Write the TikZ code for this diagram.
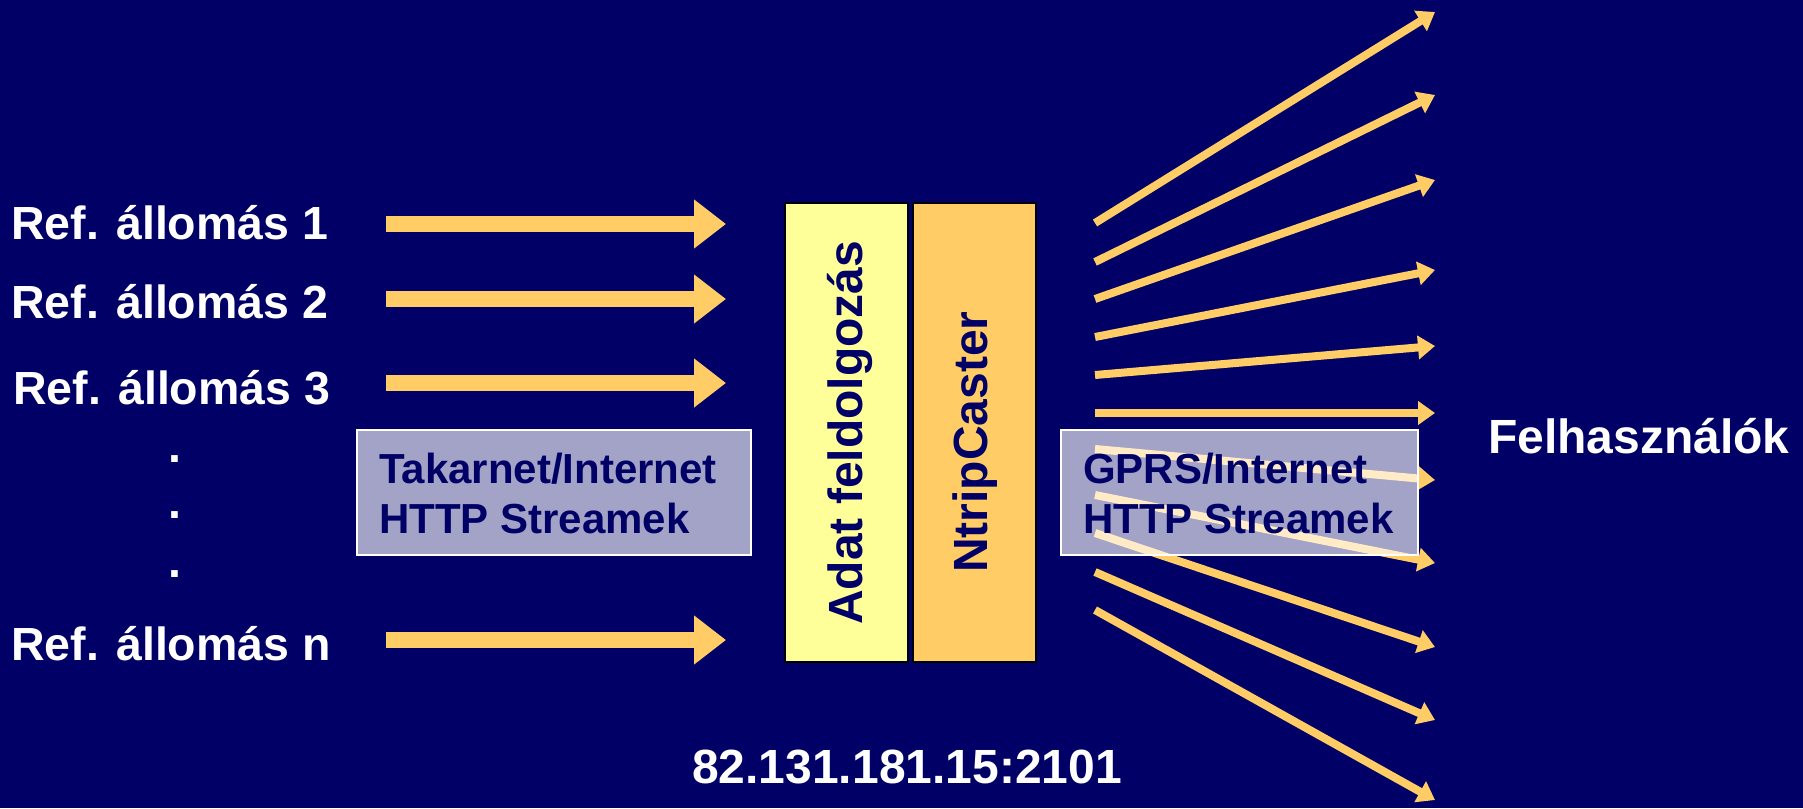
\documentclass[tikz,border=0pt]{standalone}
\usepackage{fontspec}
\setmainfont{Liberation Sans}
\usetikzlibrary{arrows.meta}
\definecolor{bg}{HTML}{000066}
\definecolor{arr}{HTML}{FFCC66}
\definecolor{ylw}{HTML}{FFFF99}
\definecolor{org}{HTML}{FFCC66}
\begin{document}
\begin{tikzpicture}[x=1pt,y=-1pt,
  lbl/.style={text=white, font=\fontsize{46.5}{54}\selectfont\bfseries, inner sep=0pt, anchor=base west},
  biglbl/.style={text=white, font=\fontsize{48}{56}\selectfont\bfseries, inner sep=0pt, anchor=base west},
  fatarrow/.style={draw=arr, line width=16pt, -{Triangle[length=32pt,width=47pt]}},
  thinarrow/.style={draw=arr, line width=8pt, -{Triangle[length=17pt,width=23pt]}},
  netbox/.style={fill=white, fill opacity=0.64, draw=white, line width=1.5pt, inner sep=0pt},
  boxtext/.style={text=bg, font=\fontsize{42}{50}\selectfont\bfseries, align=left, anchor=base west, inner sep=0pt},
  procbox/.style={draw=black, line width=2pt, inner sep=0pt},
  vtext/.style={text=bg, font=\fontsize{48}{56}\selectfont\bfseries, rotate=90, anchor=base west, inner sep=0pt}]
\fill[bg] (0,0) rectangle (1803,808);
\path[use as bounding box] (0,0) rectangle (1803,808);

% reference stations
\node[lbl] (r1) at (11,239) {Ref. állomás 1};
\node[lbl] (r2) at (11,318) {Ref. állomás 2};
\node[lbl] (r3) at (13,404) {Ref. állomás 3};
\node[lbl] (rn) at (11,660) {Ref. állomás n};
\node[lbl, anchor=base] (d1) at (175,462) {.};
\node[lbl, anchor=base] (d2) at (175,518) {.};
\node[lbl, anchor=base] (d3) at (175,577) {.};

% input arrows
\coordinate (a1s) at (386,224); \coordinate (a1e) at (726,224);
\coordinate (a2s) at (386,299); \coordinate (a2e) at (726,299);
\coordinate (a3s) at (386,383); \coordinate (a3e) at (726,383);
\coordinate (ans) at (386,640); \coordinate (ane) at (726,640);
\draw[fatarrow] (a1s) -- (a1e);
\draw[fatarrow] (a2s) -- (a2e);
\draw[fatarrow] (a3s) -- (a3e);
\draw[fatarrow] (ans) -- (ane);

% left network box
\path[netbox] (357,430) rectangle (751,555);
\node[boxtext] (t1) at (379,483) {Takarnet/Internet};
\node[boxtext] (t2) at (379,533) {HTTP Streamek};

% processing boxes
\path[procbox, fill=ylw] (785,203) rectangle (908,662);
\path[procbox, fill=org] (913,203) rectangle (1036,662);
\node[vtext] (adat) at (862,625) {Adat feldolgozás};
\node[vtext] (ntrip) at (987,573) {NtripCaster};

% output arrows
\foreach \i/\ys/\ye in {1/223/12, 2/262/95, 3/299/180, 4/337/270, 5/375/346, 6/413/413, 7/449/480, 8/495/563, 9/533/647, 10/572/720, 11/610/800}{
  \coordinate (o\i s) at (1095,\ys);
  \coordinate (o\i e) at (1435,\ye);
  \draw[thinarrow] (o\i s) -- (o\i e);
}

% right network box
\path[netbox] (1061,430) rectangle (1418,555);
\node[boxtext] (g1) at (1083,483) {GPRS/Internet};
\node[boxtext] (g2) at (1083,533) {HTTP Streamek};

\node[biglbl] (users) at (1488,453) {Felhasználók};
\node[biglbl] (ip) at (692,783) {82.131.181.15:2101};
\end{tikzpicture}
\end{document}
